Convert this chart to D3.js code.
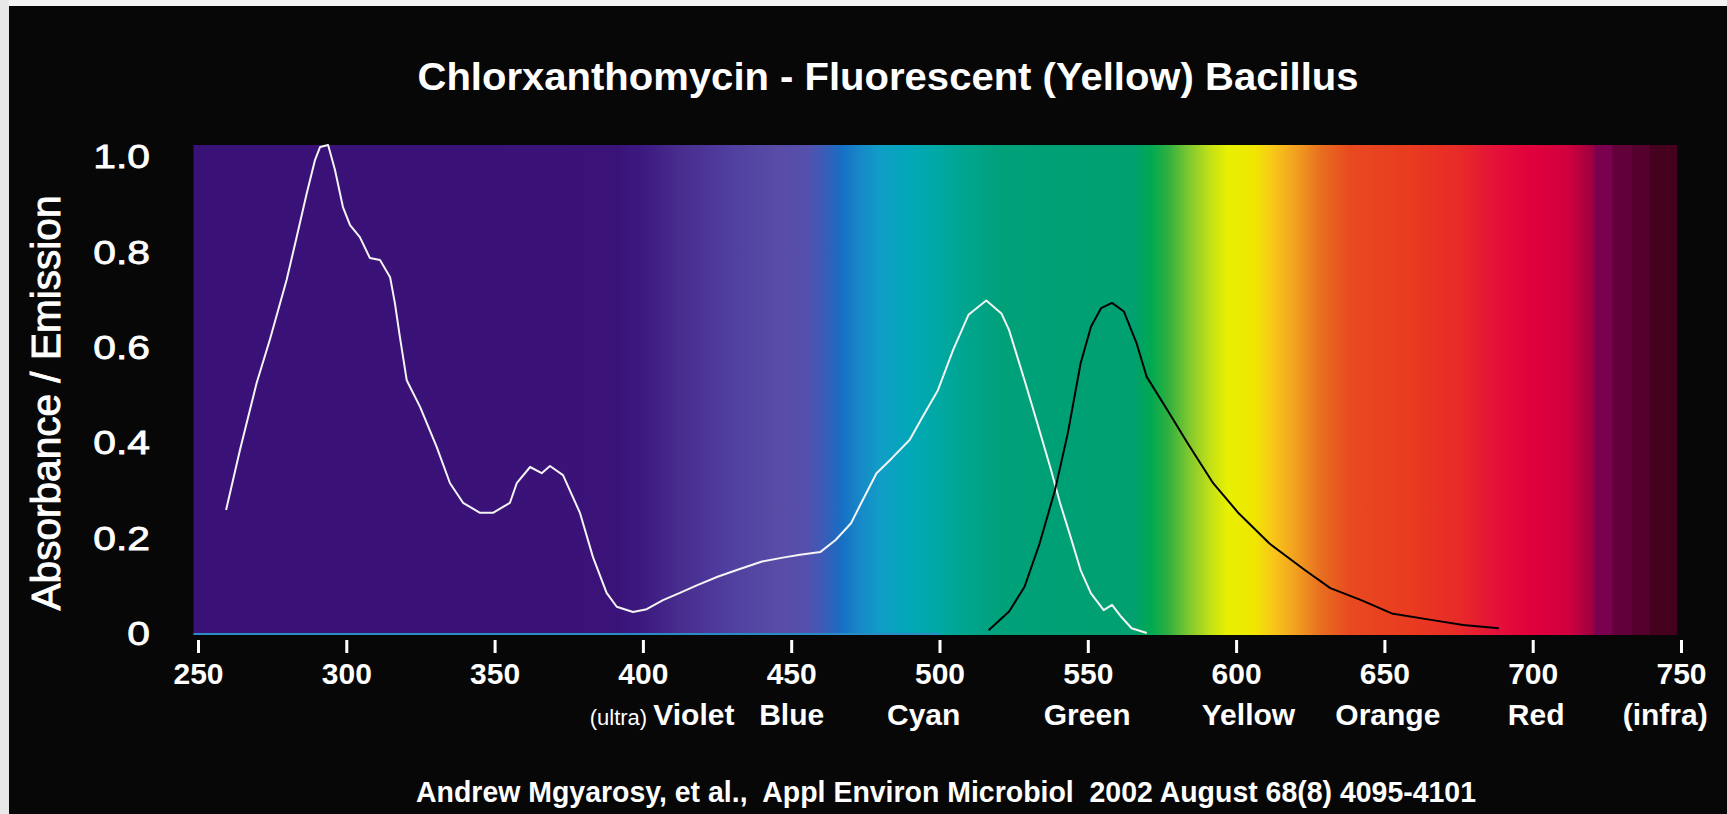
<!DOCTYPE html>
<html><head><meta charset="utf-8">
<script src="https://cdn.jsdelivr.net/npm/d3@7"></script>
<style>
html,body{margin:0;padding:0;background:#080808;overflow:hidden}
text{font-family:"Liberation Sans",Arial,Helvetica,sans-serif;fill:#fff}
</style>
</head><body><svg id="c" width="1727" height="814"></svg>
<script>
// ---------- data ----------
const title = "Chlorxanthomycin - Fluorescent (Yellow) Bacillus";
const yAxisLabel = "Absorbance / Emission";
const footer = "Andrew Mgyarosy, et al.,  Appl Environ Microbiol  2002 August 68(8) 4095-4101";

const xTicks = [250, 300, 350, 400, 450, 500, 550, 600, 650, 700, 750];
const yTicks = [0, 0.2, 0.4, 0.6, 0.8, 1.0];
const yTickLabels = ["0", "0.2", "0.4", "0.6", "0.8", "1.0"];

const bandNames   = ["Violet", "Blue", "Cyan", "Green", "Yellow", "Orange", "Red", "(infra)"];
const bandCenters = [406.3, 450, 494.5, 549.6, 604, 651, 701, 744.5];

// absorbance (white curve)
const absWl  = [259.3,264.0,269.6,274.1,279.7,283.1,286.5,289.3,291.0,293.7,296.0,298.7,301.1,304.4,307.8,311.2,314.6,316.2,317.9,320.2,324.7,330.3,334.8,339.2,344.9,349.3,355.0,357.3,361.8,365.7,368.5,372.9,378.6,383.0,387.6,391.0,396.5,401.1,406.6,412.3,418,425,432,440,447,452.8,459.7,464.8,470.0,473.4,478.6,483.7,489.8,494.1,499.3,504.4,509.6,515.6,520.7,523.3,528.5,532.8,537.1,540.5,544.0,547.4,550.9,555.2,558.0,561.1,564.6,569.7];
const absVal = [0.258,0.384,0.524,0.616,0.740,0.830,0.922,0.992,1.019,1.023,0.971,0.893,0.855,0.830,0.786,0.782,0.746,0.692,0.621,0.530,0.474,0.390,0.314,0.273,0.252,0.252,0.273,0.314,0.348,0.335,0.350,0.331,0.252,0.159,0.084,0.055,0.044,0.050,0.069,0.084,0.100,0.118,0.133,0.150,0.158,0.164,0.170,0.195,0.230,0.272,0.335,0.366,0.405,0.453,0.509,0.593,0.667,0.697,0.670,0.635,0.530,0.440,0.349,0.272,0.202,0.132,0.083,0.048,0.059,0.034,0.010,0.0];

// emission (black curve)
const emWl  = [516.4,523.3,528.5,533.6,538.8,543.1,547.4,550.9,554.3,558.0,562.0,566.3,569.7,576.6,583.5,592.1,600.7,611.0,623.0,631.6,642.0,652.3,666.1,676.4,688.4];
const emVal = [0.006,0.045,0.097,0.188,0.300,0.419,0.565,0.642,0.681,0.692,0.674,0.607,0.537,0.468,0.398,0.314,0.251,0.188,0.132,0.094,0.069,0.041,0.027,0.017,0.010];

// visible spectrum background
const spectrumWl     = [248.3, 390, 400, 412, 430, 445, 455, 461, 467, 473, 480, 490, 500, 510, 520, 565, 571, 577, 584, 591, 597, 606, 612, 620, 628, 638, 660, 675, 688, 700, 712, 717, 720.5, 721, 726.5, 727, 733, 733.5, 739, 739.5, 748.5];
const spectrumColors = ["#3a1277","#3a1278","#3d1a80","#482c8e","#5040a0","#584ca6","#5550ac","#3a5cb8","#1670c4","#1888c8","#109ec6","#02a8b8","#00a8a2","#00a58c","#00a07a","#00a070","#00a852","#30b040","#80c830","#c2e018","#e8f000","#f0e600","#f8c818","#f2a020","#e87020","#e84a20","#e83a20","#e82a28","#e4103a","#e0003c","#d0003f","#b00040","#980040","#7a0050","#7a0050","#62003a","#62003a","#55002d","#55002d","#45001e","#45001e"];

// ---------- drawing ----------
const svg = d3.select("#c");
const x = d3.scaleLinear().domain([250, 750]).range([198.5, 1681.5]);
const y = d3.scaleLinear().domain([0, 1]).range([633, 156]);

// background frame
svg.append("rect").attr("width", 1727).attr("height", 814).attr("fill", "#070707");
svg.append("rect").attr("width", 1727).attr("height", 6).attr("fill", "#f4f4f4");
svg.append("rect").attr("width", 9).attr("height", 814).attr("fill", "#e8e8e8");

// spectrum gradient
const x0 = x(spectrumWl[0]), x1 = x(spectrumWl[spectrumWl.length - 1]);
const grad = svg.append("defs").append("linearGradient")
  .attr("id", "spec").attr("gradientUnits", "userSpaceOnUse")
  .attr("x1", x0).attr("x2", x1).attr("y1", 0).attr("y2", 0);
spectrumWl.forEach((w, i) => {
  grad.append("stop").attr("offset", (x(w) - x0) / (x1 - x0)).attr("stop-color", spectrumColors[i]);
});
svg.append("rect").attr("x", x0).attr("y", 145).attr("width", x1 - x0).attr("height", 490).attr("fill", "url(#spec)");
// thin bluish baseline
svg.append("line").attr("x1", x0).attr("x2", x(500)).attr("y1", 634).attr("y2", 634)
  .attr("stroke", "#2a8cc4").attr("stroke-width", 2);

// curves
const line = d3.line().x(d => x(d[0])).y(d => y(d[1]));
svg.append("path").attr("d", line(absWl.map((w, i) => [w, absVal[i]])))
  .attr("fill", "none").attr("stroke", "#f4f4f4").attr("stroke-width", 2).attr("stroke-linejoin", "round");
svg.append("path").attr("d", line(emWl.map((w, i) => [w, emVal[i]])))
  .attr("fill", "none").attr("stroke", "#000").attr("stroke-width", 2).attr("stroke-linejoin", "round");

// helper to widen text like the original face
function stretch(sel, k) {
  sel.each(function () {
    const w = this.getComputedTextLength();
    d3.select(this).attr("textLength", w * k).attr("lengthAdjust", "spacingAndGlyphs");
  });
}

// x ticks
svg.append("g").selectAll("rect").data(xTicks).join("rect")
  .attr("x", d => x(d) - 1.5).attr("y", 640).attr("width", 3).attr("height", 13).attr("fill", "#fff");
svg.append("g").selectAll("text").data(xTicks).join("text")
  .attr("x", d => x(d)).attr("y", 684).attr("text-anchor", "middle")
  .attr("font-size", 30).attr("font-weight", "bold").text(d => d);

// colour band names
const names = svg.append("g").selectAll("text").data(bandNames).join("text")
  .attr("x", (d, i) => x(bandCenters[i])).attr("y", 725).attr("text-anchor", "middle")
  .attr("font-size", 30).attr("font-weight", "bold").style("white-space", "pre");
names.each(function (d) {
  const t = d3.select(this);
  if (d === "Violet") {
    t.append("tspan").attr("font-size", 22).attr("font-weight", "normal").text("(ultra) ");
    t.append("tspan").text(d);
  } else {
    t.text(d);
  }
});

// y ticks
const yl = svg.append("g").selectAll("text").data(yTicks).join("text")
  .attr("x", 150).attr("y", d => y(d)).attr("dy", "0.36em").attr("text-anchor", "end")
  .attr("font-size", 34).attr("stroke", "#fff").attr("stroke-width", 0.8)
  .text((d, i) => yTickLabels[i]);
stretch(yl, 1.2);

// y axis label
svg.append("text").attr("transform", "translate(60,403) rotate(-90)")
  .attr("text-anchor", "middle").attr("font-size", 40)
  .attr("stroke", "#fff").attr("stroke-width", 0.9)
  .attr("textLength", 415).attr("lengthAdjust", "spacingAndGlyphs").text(yAxisLabel);

// title
svg.append("text").attr("x", 888).attr("y", 90).attr("text-anchor", "middle")
  .attr("font-size", 39).attr("font-weight", "bold")
  .attr("textLength", 941).attr("lengthAdjust", "spacingAndGlyphs").text(title);

// footer
svg.append("text").attr("x", 946).attr("y", 802).attr("text-anchor", "middle")
  .attr("font-size", 30).attr("font-weight", "bold").style("white-space", "pre")
  .attr("textLength", 1060).attr("lengthAdjust", "spacingAndGlyphs").text(footer);
</script>
</body></html>
